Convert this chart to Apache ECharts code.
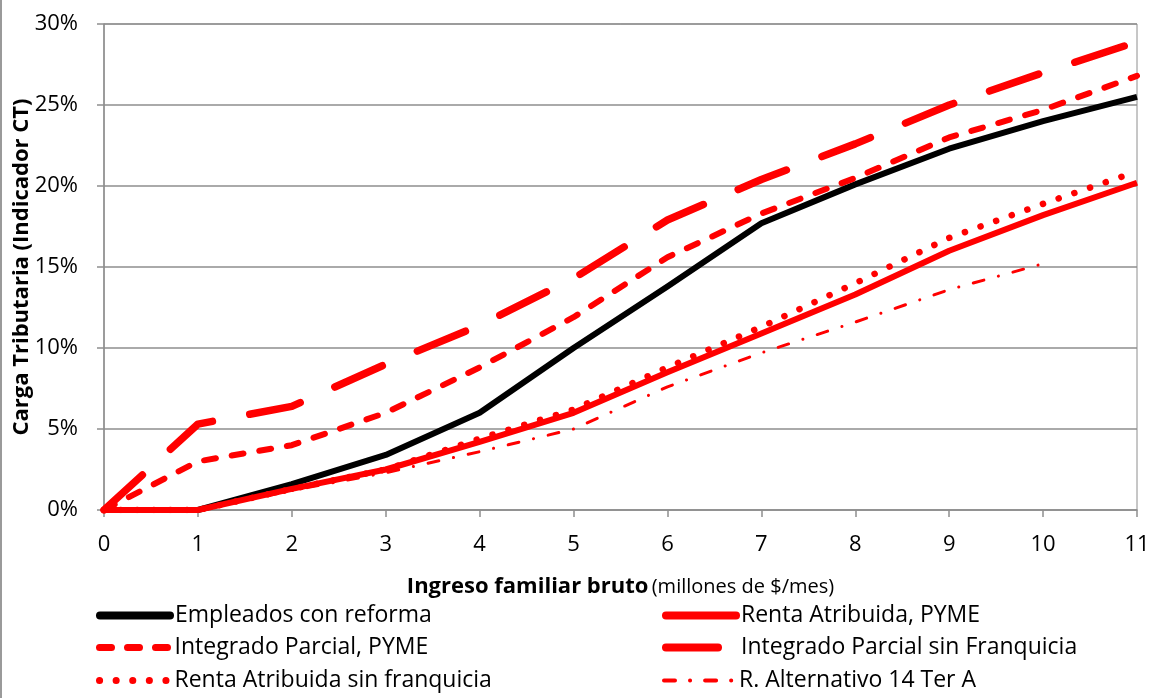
<!DOCTYPE html>
<html>
<head>
<meta charset="utf-8">
<script src="https://cdn.jsdelivr.net/npm/echarts@6/dist/echarts.min.js"></script>
<style>
  html, body { margin: 0; padding: 0; background: #fff; }
  #chart { width: 1150px; height: 698px; }
</style>
</head>
<body>
<div id="chart"></div>
<script>
// ---- Data ----
const xValues = [0, 1, 2, 3, 4, 5, 6, 7, 8, 9, 10, 11];
const yTicks = [0, 5, 10, 15, 20, 25, 30];

const seriesNames = [
  'Empleados con reforma',
  'Renta Atribuida, PYME',
  'Integrado Parcial, PYME',
  'Integrado Parcial sin Franquicia',
  'Renta Atribuida sin franquicia',
  'R. Alternativo 14 Ter A'
];

const empleados     = [0, 0, 1.6, 3.4, 6.0, 10.0, 13.8, 17.7, 20.1, 22.3, 24.0, 25.5];
const rentaPyme     = [0, 0, 1.3, 2.5, 4.2, 6.0, 8.5, 10.9, 13.3, 16.0, 18.2, 20.2];
const integradoPyme = [0, 3.0, 4.0, 6.0, 8.8, 11.9, 15.6, 18.3, 20.5, 23.0, 24.7, 26.8];
const integradoSinF = [0, 5.3, 6.4, 9.0, 11.4, 14.3, 17.9, 20.4, 22.6, 25.0, 27.0, 28.9];
const rentaSinF     = [0, 0, 1.3, 2.5, 4.4, 6.2, 8.8, 11.3, 14.0, 16.8, 18.9, 20.9];
const alternativo   = [0, 0, 1.2, 2.3, 3.6, 5.0, 7.6, 9.7, 11.6, 13.6, 15.2, null];

const xAxisTitleBold = 'Ingreso familiar bruto';
const xAxisTitleRest = '(millones de $/mes)';
const yAxisTitle = 'Carga Tributaria (Indicador CT)';

// ---- Build ----
function pairs(vals) {
  return xValues.map((x, i) => [x, vals[i]]);
}

const FONT = 'Open Sans';
const RED = '#ff0000';
const GRAY = '#8e8e8e';

const styles = [
  { color: '#000000', width: 6, type: 'solid', cap: 'butt', legendWidth: 8 },
  { color: RED, width: 6, type: 'solid', cap: 'butt', legendWidth: 8 },
  { color: RED, width: 6, type: [12, 16], cap: 'round', legendWidth: 7 },
  { color: RED, width: 7.5, type: [52, 38], cap: 'round', legendWidth: 8 },
  { color: RED, width: 6.5, type: [0.1, 16.5], cap: 'round', legendWidth: 7 },
  { color: RED, width: 3, type: [11, 15, 0.1, 15], cap: 'round', legendWidth: 4 }
];

const dataSets = [empleados, rentaPyme, integradoPyme, integradoSinF, rentaSinF, alternativo];

const series = seriesNames.map((name, i) => ({
  name: name,
  type: 'line',
  data: pairs(dataSets[i]),
  symbol: 'none',
  showSymbol: false,
  silent: true,
  animation: false,
  connectNulls: false,
  z: 2 + i,
  lineStyle: {
    color: styles[i].color,
    width: styles[i].width,
    type: styles[i].type,
    cap: styles[i].cap,
    join: 'round'
  },
  itemStyle: { color: styles[i].color }
}));

// legend placement: [left, centerY] for each series
const legendPos = [
  [96, 615], [662, 615],
  [96, 647], [662, 647],
  [96, 680], [662, 680]
];

const legends = seriesNames.map((name, i) => ({
  orient: 'horizontal',
  left: legendPos[i][0],
  top: legendPos[i][1] - 11,
  padding: 0,
  itemWidth: 70,
  itemHeight: 14,
  selectedMode: false,
  textStyle: { fontFamily: FONT, fontSize: 23, color: '#000', lineHeight: 22 },
  data: [{
    name: name,
    itemStyle: { opacity: 0, color: 'rgba(0,0,0,0)', borderWidth: 0 },
    lineStyle: {
      width: styles[i].legendWidth,
      type: styles[i].type,
      cap: 'round',
      color: styles[i].color,
      opacity: 1
    }
  }]
}));

const option = {
  animation: false,
  backgroundColor: '#ffffff',
  grid: {
    left: 104, right: 13, top: 24, bottom: 188,
    containLabel: false,
    outerBoundsMode: 'none',
    show: true, borderColor: GRAY, borderWidth: 1, backgroundColor: 'transparent'
  },
  legend: legends,
  xAxis: {
    type: 'value',
    min: 0, max: 11, interval: 1,
    name: '{b|' + xAxisTitleBold + '} {r|' + xAxisTitleRest + '}',
    nameLocation: 'middle',
    nameGap: 66,
    nameMoveOverlap: false,
    nameTextStyle: {
      rich: {
        b: { fontFamily: FONT, fontWeight: 'bold', fontSize: 22, color: '#000' },
        r: { fontFamily: FONT, fontSize: 20, color: '#000' }
      }
    },
    axisLine: { show: true, lineStyle: { color: GRAY, width: 1.5 } },
    axisTick: { show: true, length: 7, inside: false, lineStyle: { color: GRAY, width: 1.5 } },
    axisLabel: { fontFamily: FONT, fontSize: 22, color: '#000', margin: 24 },
    splitLine: { show: false }
  },
  yAxis: {
    type: 'value',
    min: 0, max: 30, interval: 5,
    name: yAxisTitle,
    nameLocation: 'middle',
    nameGap: 71,
    nameMoveOverlap: false,
    nameRotate: 90,
    nameTextStyle: { fontFamily: FONT, fontWeight: 'bold', fontSize: 22, color: '#000' },
    axisLine: { show: true, lineStyle: { color: GRAY, width: 1.5 } },
    axisTick: { show: true, length: 7, inside: false, lineStyle: { color: GRAY, width: 1.5 } },
    axisLabel: {
      fontFamily: FONT, fontSize: 22, color: '#000', margin: 26,
      formatter: function (v) { return yTicks.indexOf(v) >= 0 ? v + '%' : ''; }
    },
    splitLine: { show: true, lineStyle: { color: GRAY, width: 1.5 } }
  },
  graphic: [
    { type: 'line', shape: { x1: 1, y1: 0, x2: 1, y2: 698 }, style: { stroke: '#9a9a9a', lineWidth: 2 }, silent: true }
  ],
  series: series
};

const chart = echarts.init(document.getElementById('chart'), null, { renderer: 'canvas' });
chart.setOption(option);
</script>
</body>
</html>
